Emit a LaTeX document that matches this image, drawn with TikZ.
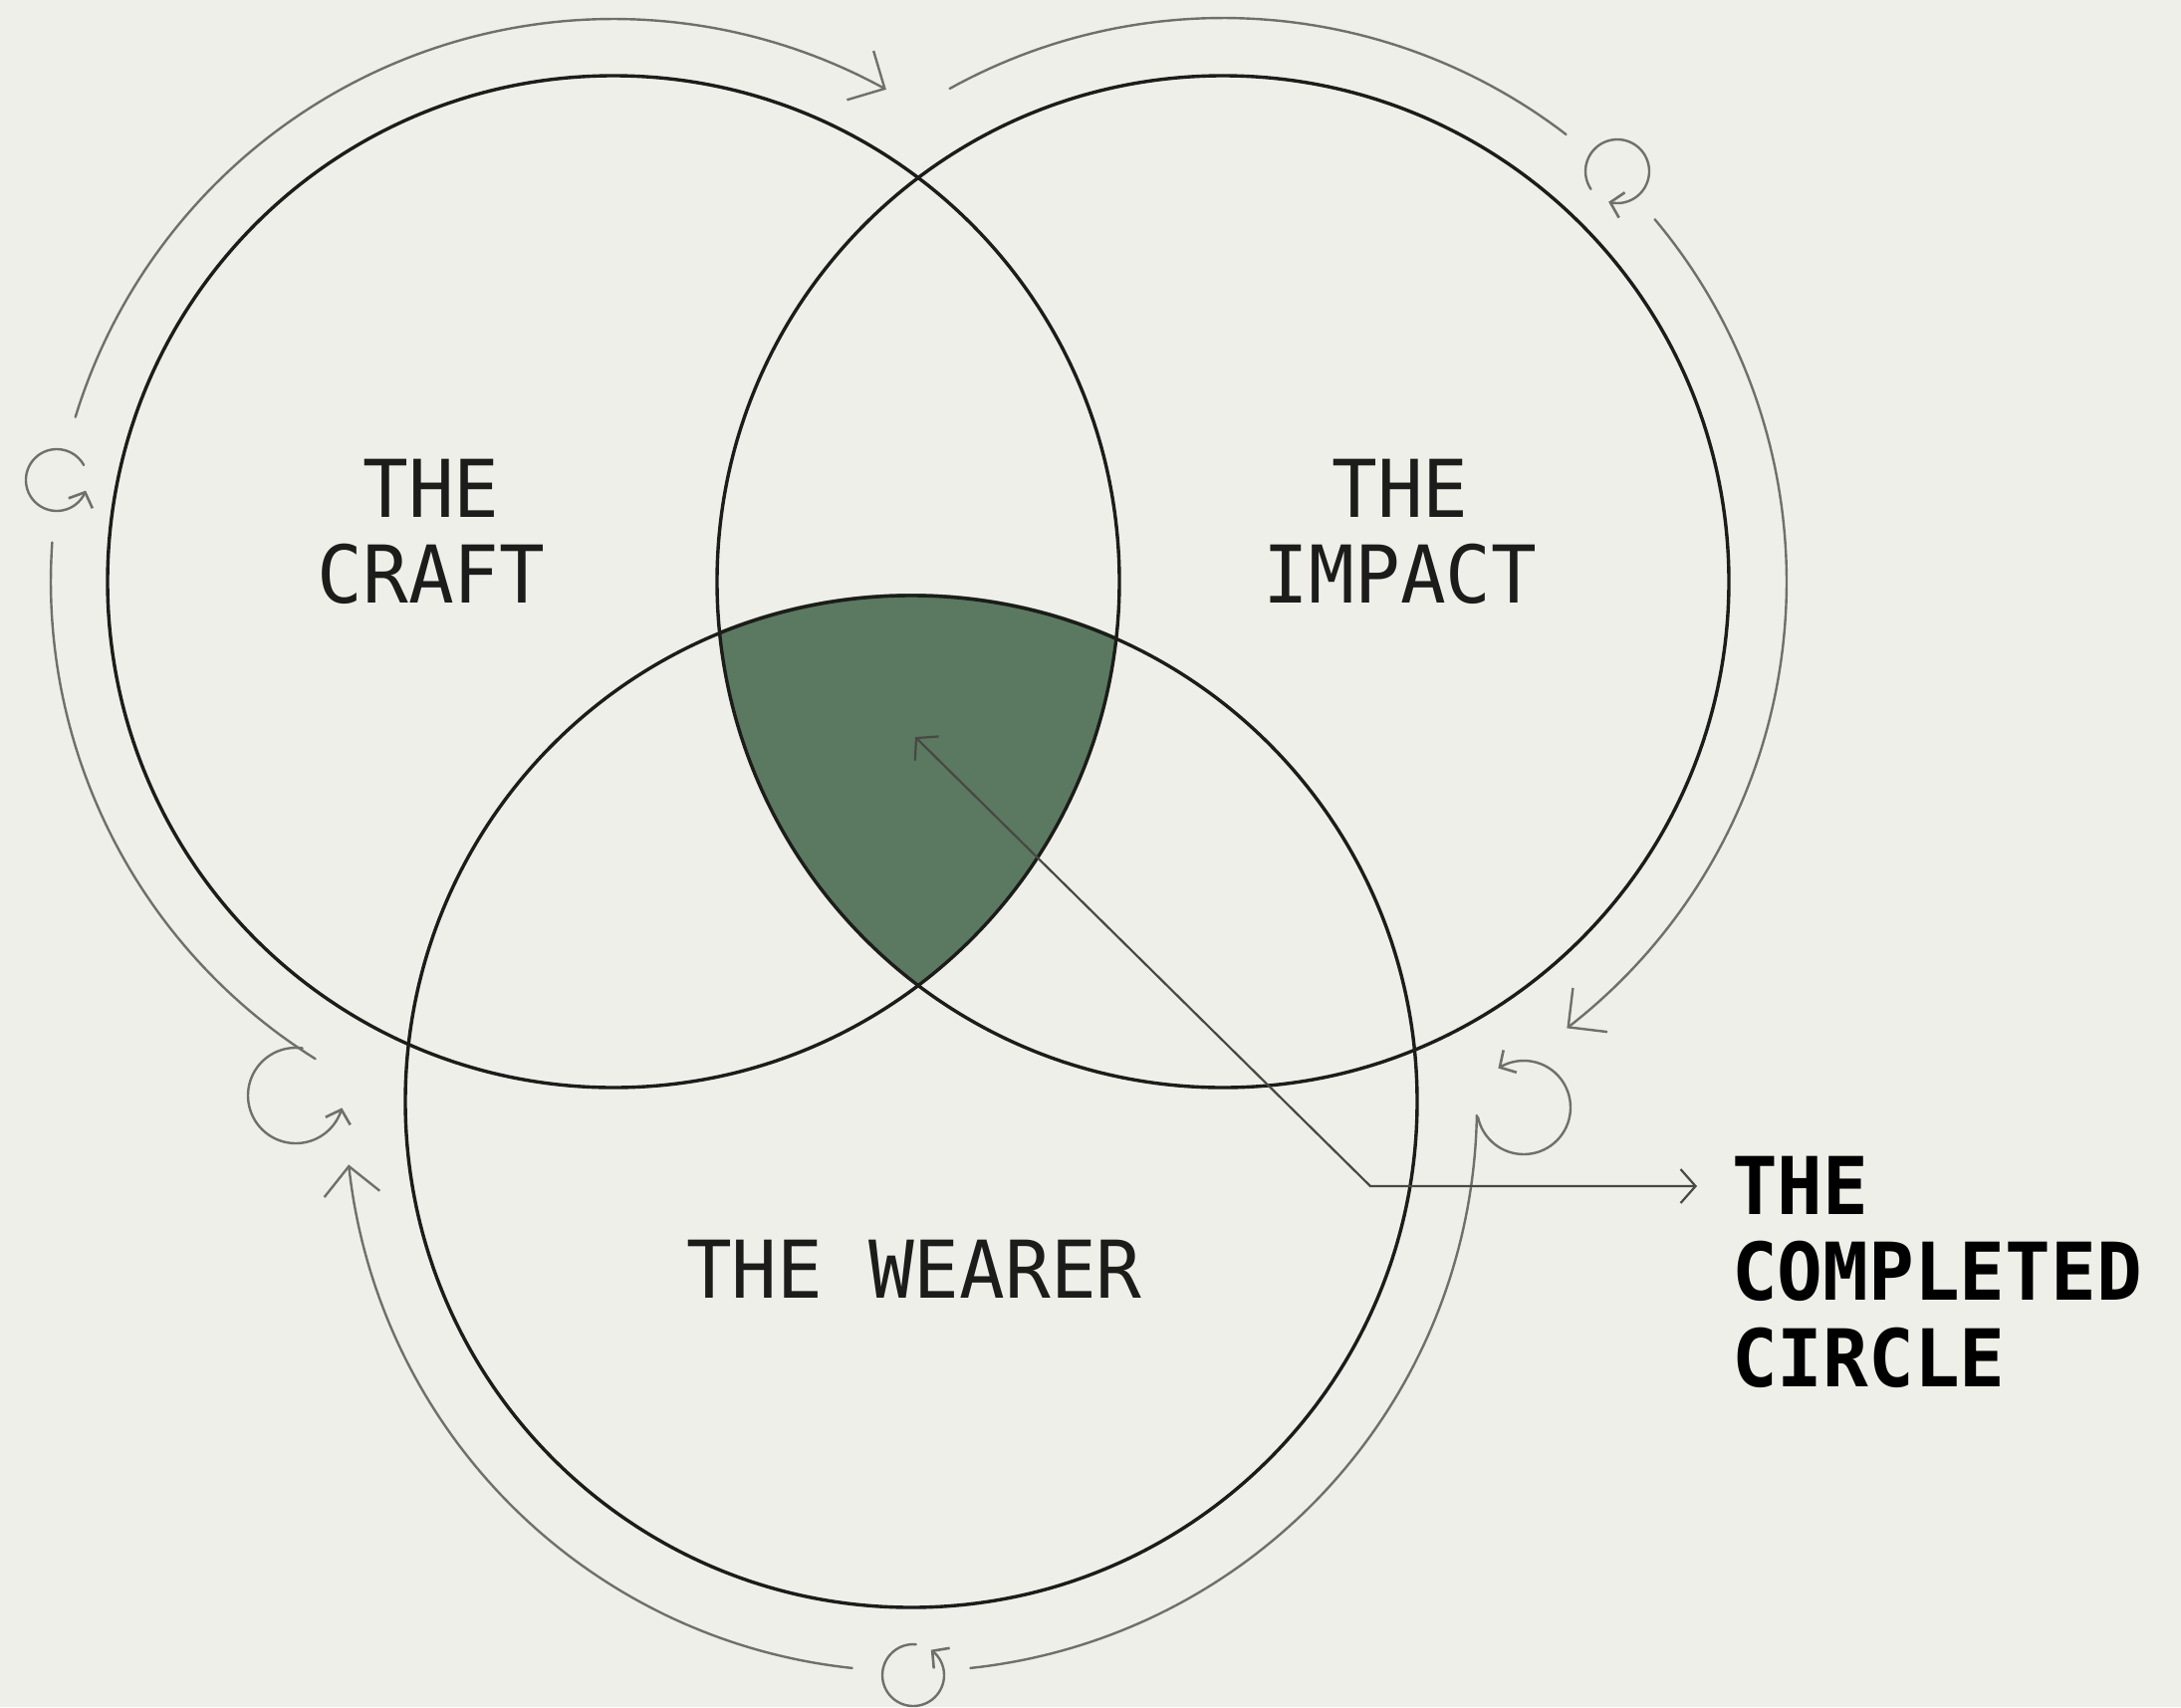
\documentclass[tikz,border=0pt]{standalone}
\usepackage{fontspec}
\usetikzlibrary{arrows.meta}
\newfontfamily\labelfont[FakeStretch=0.95]{DejaVu Sans Mono}
\definecolor{bgc}{RGB}{239,239,233}
\definecolor{inkc}{RGB}{28,28,26}
\definecolor{flowc}{RGB}{112,112,107}
\definecolor{ptrc}{RGB}{72,72,68}
\definecolor{corec}{RGB}{91,121,96}
\begin{document}
\begin{tikzpicture}[x=1pt,y=-1pt,
  venn/.style={circle, draw=inkc, line width=3.4pt, minimum size=1016pt, inner sep=0pt},
  flow/.style={draw=flowc, line width=2.4pt, line cap=round},
  bigtip/.style={-{Straight Barb[length=28pt,width=56pt,line width=2.4pt]}},
  icontip/.style={-{Straight Barb[length=12pt,width=26pt,line width=2.6pt]}},
  pointer/.style={draw=ptrc, line width=2.2pt},
  lbl/.style={font=\labelfont\fontsize{80}{86.6}\selectfont, text=inkc, inner sep=0pt, align=center},
  boldlbl/.style={font=\labelfont\bfseries\fontsize{80}{86.6}\selectfont, text=black, inner sep=0pt, align=left}
]
\fill[bgc] (0,0) rectangle (2190,1714);
\useasboundingbox (0,0) rectangle (2190,1714);

\coordinate (cC) at (616,584);
\coordinate (cI) at (1228,584);
\coordinate (cW) at (915,1106);

% shared core
\begin{scope}
  \clip (cC) circle[radius=508];
  \clip (cI) circle[radius=508];
  \fill[corec] (cW) circle[radius=510];
\end{scope}

% the three circles
\node[venn] (craft) at (cC) {};
\node[venn] (impact) at (cI) {};
\node[venn] (wearer) at (cW) {};

% labels
\node[lbl] (craftlbl) at (433,534) {THE\\CRAFT};
\node[lbl] (impactlbl) at (1406,534) {THE\\IMPACT};
\node[lbl] (wearerlbl) at (918,1274) {THE WEARER};
\node[boldlbl, anchor=west] (done) at (1739,1277) {THE\\COMPLETED\\CIRCLE};

% outer flow arcs: craft
\draw[flow, bigtip] plot[domain=197:299, samples=100] ({616+565*cos(\x)}, {584+565*sin(\x)});
\draw[flow] plot[domain=122:184, samples=60] ({616+565*cos(\x)}, {584+565*sin(\x)});
% impact
\draw[flow] plot[domain=-119:-52.5, samples=60] ({1228+566*cos(\x)}, {584+566*sin(\x)});
\draw[flow, bigtip] plot[domain=-40:52.4, samples=90] ({1228+566*cos(\x)}, {584+566*sin(\x)});
% wearer
\draw[flow] plot[domain=1:84, samples=80] ({915+568*cos(\x)}, {1110+568*sin(\x)});
\draw[flow, bigtip] plot[domain=96:174, samples=80] ({915+568*cos(\x)}, {1110+568*sin(\x)});

% small cycle icons
\draw[flow, icontip] plot[domain=-29:-340, samples=60] ({57+31*cos(\x)}, {482+31*sin(\x)});
\draw[flow, icontip] plot[domain=146:466, samples=60] ({1624+32*cos(\x)}, {172+32*sin(\x)});
\draw[flow, icontip] plot[domain=-82:-345, samples=60] ({297+48*cos(\x)}, {1100+48*sin(\x)});
\draw[flow, icontip] plot[domain=168:-123, samples=60] ({1530+47*cos(\x)}, {1112+47*sin(\x)});
\draw[flow, icontip] plot[domain=-85:-415, samples=60] ({917+31*cos(\x)}, {1682+31*sin(\x)});

% pointer to the completed circle
\coordinate (core) at (919,740);
\coordinate (bend) at (1376,1191);
\draw[pointer, {Straight Barb[length=15pt,width=34pt,line width=2.2pt]}-{Straight Barb[length=15pt,width=34pt,line width=2.2pt]}, shorten >=35pt]
  (core) -- (bend) -- (bend -| done.west);
\end{tikzpicture}
\end{document}
